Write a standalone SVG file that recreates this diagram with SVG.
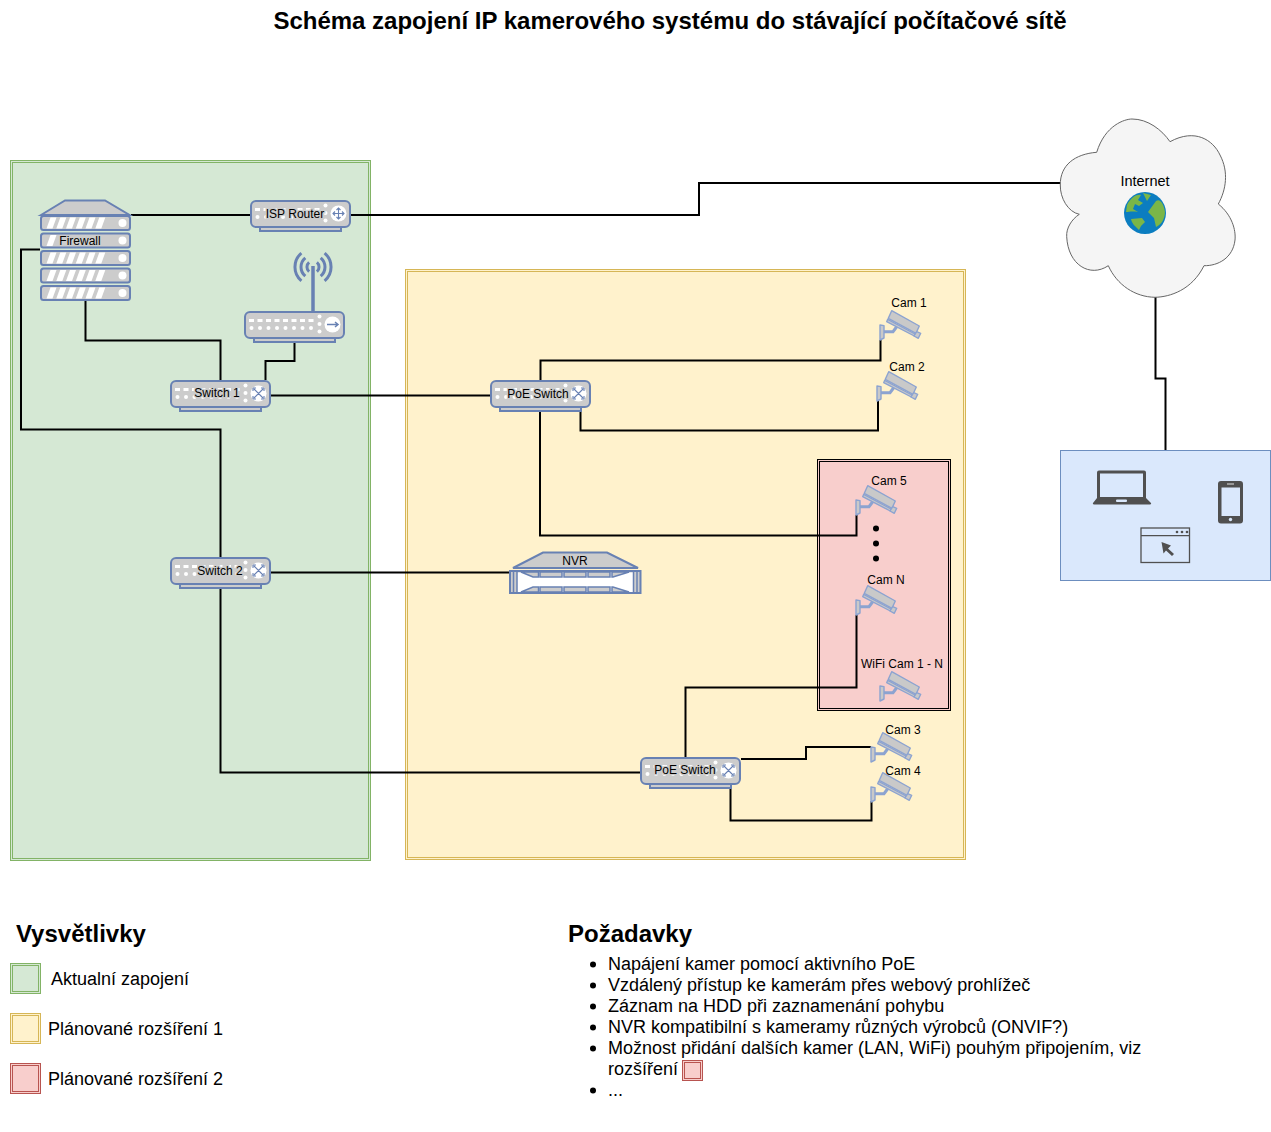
<svg xmlns="http://www.w3.org/2000/svg" xmlns:xlink="http://www.w3.org/1999/xlink" width="1271" height="1132" viewBox="0 0 1271 1132">
<style>
text{font-family:"Liberation Sans",Arial,sans-serif;fill:#000}
.l{font-size:12px;text-anchor:middle}
.lh{paint-order:stroke;stroke:#ccc;stroke-width:2.500}
.h{font-size:24px;font-weight:bold}
.t{font-size:18px}
.c{fill:none;stroke:#000;stroke-width:2}
.d{fill:#ccc;stroke:#6881b3;stroke-width:2}
.w{fill:#fff}
.i{fill:none;stroke:#6881b3;stroke-width:1.100}
.cam{fill:#c9c9c9;stroke:#8ca3d0;stroke-width:1.400;stroke-linejoin:round}
.gry{fill:#505050}
</style>
<defs>
<g id="dev">
<rect x="10" y="26" width="81" height="5" class="d"/>
<rect x="1" y="1" width="99" height="26" rx="5" class="d"/>
<g class="w">
<rect x="5" y="8" width="5" height="3"/><rect x="13.500" y="8" width="5" height="3"/><rect x="22" y="8" width="5" height="3"/><rect x="30.500" y="8" width="5" height="3"/><rect x="39" y="8" width="5" height="3"/><rect x="47.500" y="8" width="5" height="3"/><rect x="56" y="8" width="5" height="3"/><rect x="64.500" y="8" width="5" height="3"/>
<circle cx="7.500" cy="17" r="2"/><circle cx="16" cy="17" r="2"/><circle cx="24.500" cy="17" r="2"/><circle cx="33" cy="17" r="2"/><circle cx="41.500" cy="17" r="2"/><circle cx="50" cy="17" r="2"/><circle cx="58.500" cy="17" r="2"/><circle cx="67" cy="17" r="2"/>
<circle cx="75.500" cy="5.500" r="2"/><circle cx="75.500" cy="13" r="2"/><circle cx="75.500" cy="20.500" r="2"/>
<circle cx="88.500" cy="13.500" r="8"/>
</g>
</g>
<g id="sw">
<use xlink:href="#dev"/>
<path class="i" d="M84 9l9 9M93 9l-9 9M83 8v3M83 8h3M94 8v3M94 8h-3M83 19v-3M83 19h3M94 19v-3M94 19h-3"/>
</g>
<g id="cam">
<path class="cam" d="M0 15l4 .6V28l-4 2z"/>
<path d="M4 21.700H13L18 15" fill="none" stroke="#8ca3d0" stroke-width="3"/>
<path class="cam" d="M11.700 .7L39.300 16L36 23.300L8.300 8.300z"/>
<path class="cam" d="M7.700 9.300L35 24L34.300 26L6.700 11.700z"/>
<path class="cam" d="M36.700 21.700L40.700 23.300L38.300 28.300L34 26z"/>
</g>
<g id="unit">
<rect x="41" y="0" width="89" height="14" rx="2.500" class="d"/>
<circle cx="122.500" cy="7" r="4" class="w"/>
</g>
<g id="slash" class="w">
<path d="M46.500 12.500l4-11h6l-4 11zM56.300 12.500l4-11h6l-4 11zM66 12.500l4-11h6l-4 11zM75.800 12.500l4-11h6l-4 11zM85.500 12.500l4-11h6l-4 11zM95.300 12.500l4-11h6l-4 11z"/>
</g>
</defs>
<rect width="1271" height="1132" fill="#fff"/>
<text x="670" y="29" text-anchor="middle" font-size="24" font-weight="bold">Schéma zapojení IP kamerového systému do stávající počítačové sítě</text>

<g id="zone-green">
<rect x="10.500" y="160.500" width="360" height="700" fill="#d5e8d4" stroke="#82b366"/>
<rect x="12.500" y="162.500" width="356" height="696" fill="none" stroke="#82b366"/>
</g>
<g id="zone-yellow">
<rect x="405.500" y="269.500" width="560" height="590" fill="#fff2cc" stroke="#d6b656"/>
<rect x="407.500" y="271.500" width="556" height="586" fill="none" stroke="#d6b656"/>
</g>
<g id="zone-red">
<rect x="817.500" y="459.500" width="133" height="251" fill="#f8cecc" stroke="#000"/>
<rect x="819.500" y="461.500" width="129" height="247" fill="none" stroke="#000"/>
</g>
<g id="clients">
<rect x="1060.500" y="450.500" width="210" height="130" fill="#dae8fc" stroke="#6c8ebf"/>
<path class="gry" fill-rule="evenodd" d="M1099 470.500H1144a2 2 0 0 1 2 2V498L1151 503a1 1 0 0 1-1 1.500H1094a1 1 0 0 1-1-1.500L1097 498V472.500a2 2 0 0 1 2-2zM1100 473.500V497H1143V473.500z"/>
<rect x="1116" y="499.500" width="11" height="2.500" rx="1" fill="#dae8fc"/>
<path class="gry" fill-rule="evenodd" d="M1221 481H1240a3 3 0 0 1 3 3V520.500a3 3 0 0 1-3 3H1221a3 3 0 0 1-3-3V484a3 3 0 0 1 3-3zM1221.500 487.500V516H1240V487.500z"/>
<circle cx="1230.500" cy="519.500" r="1.700" fill="#dae8fc"/>
<rect x="1227" y="483" width="7" height="2" fill="#999"/>
<rect x="1141" y="528" width="48.500" height="34.500" fill="none" stroke="#505050" stroke-width="1.300"/>
<path d="M1141 535.700H1189.500" stroke="#505050" stroke-width="1.300"/>
<circle cx="1177" cy="532" r="1.300" class="gry"/><circle cx="1182" cy="532" r="1.300" class="gry"/><circle cx="1187" cy="532" r="1.300" class="gry"/>
<path class="gry" d="M1161.500 542L1171 545.500L1168 548.500L1174 554L1172 556L1166 550.500L1163.500 553.500z"/>
</g>

<g id="connectors">
<path class="c" d="M131 215H250"/>
<path class="c" d="M351 215H699V183H1060"/>
<path class="c" d="M85.500 300V340.500H220.500V380"/>
<path class="c" d="M294.500 341V361H265.500V380"/>
<path class="c" d="M40 249.500H21V429.500H220.500V557"/>
<path class="c" d="M271 395.500H490"/>
<path class="c" d="M540.500 380V360.500H880.500V340"/>
<path class="c" d="M580.500 411V430.500H878V400"/>
<path class="c" d="M540 411V535.500H856.500V515"/>
<path class="c" d="M271 572.500H510"/>
<path class="c" d="M220.500 588V772.500H640"/>
<path class="c" d="M685.500 757V687.500H856.500V615"/>
<path class="c" d="M741 759H806V747H871"/>
<path class="c" d="M730.500 788V820.500H871.500V801"/>
<path class="c" d="M1155.500 297V378.500H1165.500V450"/>
</g>

<g id="firewall">
<path class="d" d="M41 215L65 200.500H105L129.500 215z"/>
<use xlink:href="#unit" y="216"/><use xlink:href="#slash" y="216"/>
<use xlink:href="#unit" y="233.500"/><path class="w" d="M46.500 246l4-11h6l-4 11z"/>
<use xlink:href="#unit" y="251"/><use xlink:href="#slash" y="251"/>
<use xlink:href="#unit" y="268.500"/><use xlink:href="#slash" y="268.500"/>
<use xlink:href="#unit" y="286"/><use xlink:href="#slash" y="286"/>
<text class="l" x="80" y="245">Firewall</text>
</g>
<g id="isp-router">
<use xlink:href="#dev" x="250" y="200"/>
<path class="i" d="M338.500 208V219M333 213.500H344M336.500 210l2-2 2 2M336.500 217l2 2 2-2M335 211.500l-2 2 2 2M342 211.500l2 2-2 2"/>
<text class="l lh" x="295" y="218">ISP Router</text>
</g>
<g id="wifi-router">
<use xlink:href="#dev" x="244" y="311"/>
<path d="M313 312V266" stroke="#6881b3" stroke-width="3.500" fill="none"/>
<path d="M309.100 262.400A6 6 0 0 0 309.100 271.600M305.300 257.800A12 12 0 0 0 305.300 276.200M301.400 253.200A18 18 0 0 0 301.400 280.800M316.900 262.400A6 6 0 0 1 316.900 271.600M320.700 257.800A12 12 0 0 1 320.700 276.200M324.600 253.200A18 18 0 0 1 324.600 280.800" fill="none" stroke="#6881b3" stroke-width="3"/>
<path d="M327 324.500H338M335 322l3 2.500-3 2.500" fill="none" stroke="#6881b3" stroke-width="1.500"/>
</g>
<g id="switch-1">
<use xlink:href="#sw" x="170" y="380"/>
<text class="l lh" x="217" y="397">Switch 1</text>
</g>
<g id="switch-2">
<use xlink:href="#sw" x="170" y="557"/>
<text class="l lh" x="220" y="575">Switch 2</text>
</g>
<g id="poe-switch-1">
<use xlink:href="#sw" x="490" y="380"/>
<text class="l lh" x="538" y="398">PoE Switch</text>
</g>
<g id="poe-switch-2">
<use xlink:href="#sw" x="640" y="757"/>
<text class="l lh" x="685" y="774">PoE Switch</text>
</g>
<g id="nvr">
<path class="d" d="M513 568L543 552.500H607L638 568z"/>
<rect x="510" y="571" width="130.500" height="22" class="d"/>
<path class="w" d="M517 572.500H633V592H517z"/>
<path d="M513.500 571V593M517 571V593M633.500 571V593M637 571V593" stroke="#6881b3" stroke-width="1.500"/>
<g fill="#ccc" stroke="#6881b3" stroke-width="1.500">
<path d="M521 572H538.500V577L533 577z"/><rect x="540" y="572" width="22" height="5"/><rect x="564" y="572" width="22" height="5"/><rect x="588" y="572" width="22" height="5"/><path d="M612 572H629L613 577H612z"/>
<path d="M521 592H538.500V587L533 587z"/><rect x="540" y="587" width="22" height="5"/><rect x="564" y="587" width="22" height="5"/><rect x="588" y="587" width="22" height="5"/><path d="M612 592H629L613 587H612z"/>
</g>
<text class="l" x="575" y="565">NVR</text>
</g>
<g id="cam-1"><use xlink:href="#cam" x="880" y="310"/><text class="l" x="909" y="307">Cam 1</text></g>
<g id="cam-2"><use xlink:href="#cam" x="877" y="371"/><text class="l" x="907" y="371">Cam 2</text></g>
<g id="cam-5"><use xlink:href="#cam" x="856" y="485"/><text class="l" x="889" y="485">Cam 5</text></g>
<g id="cam-n"><use xlink:href="#cam" x="856" y="585"/><text class="l" x="886" y="584">Cam N</text></g>
<g id="cam-wifi"><use xlink:href="#cam" x="880" y="671"/><text class="l" x="902" y="668">WiFi Cam 1 - N</text></g>
<g id="cam-3"><use xlink:href="#cam" x="871" y="732"/><text class="l" x="903" y="734">Cam 3</text></g>
<g id="cam-4"><use xlink:href="#cam" x="871" y="772"/><text class="l" x="903" y="775">Cam 4</text></g>
<g id="more-dots"><circle cx="876" cy="528.500" r="3"/><circle cx="876" cy="543.500" r="3"/><circle cx="876" cy="558.500" r="3"/></g>
<g id="internet">
<path fill="#f5f5f5" stroke="#666" d="M1096.700 152.300C1105 125 1125 119 1132 119C1148 119 1162 130 1170 141.700C1195 128 1213 140 1220 155C1229 172 1226 190 1218.300 204C1232 215 1236 230 1235 240C1233 258 1218 266 1204 265.700C1192 290 1170 297 1155 297.300C1135 297 1117 285 1108.300 265.700C1090 278 1068 265 1066.700 236.700C1066 228 1072 219 1079.300 214.300C1068 212 1060 198 1060.300 185C1060 165 1075 154 1096.700 152.300z"/>
<text x="1145" y="186" font-size="14.500" text-anchor="middle">Internet</text>
<circle cx="1145" cy="213" r="21" fill="#0b7dc0"/>
<path fill="#7ab648" d="M1127 205C1131 197 1137 194 1141 195L1138 200L1143 203L1139 206L1135 204L1133 209L1138 212C1132 211 1129 212 1126 212zM1143 193L1151 195L1147 201zM1156 201C1160 198 1164 204 1165 212C1165 219 1161 225 1156 227L1154 218L1148 212zM1131 219L1142 218L1145 222L1141 226L1139 230C1135 226 1132 224 1131 219z"/>
</g>

<g id="legend">
<text class="h" x="16" y="942">Vysvětlivky</text>
<rect x="10.500" y="963.500" width="30" height="30" fill="#d5e8d4" stroke="#82b366"/><rect x="12.500" y="965.500" width="26" height="26" fill="none" stroke="#82b366"/>
<text class="t" x="51" y="985">Aktualní zapojení</text>
<rect x="10.500" y="1013.500" width="30" height="30" fill="#fff2cc" stroke="#d6b656"/><rect x="12.500" y="1015.500" width="26" height="26" fill="none" stroke="#d6b656"/>
<text class="t" x="48" y="1035">Plánované rozšíření 1</text>
<rect x="10.500" y="1063.500" width="30" height="30" fill="#f8cecc" stroke="#b85450"/><rect x="12.500" y="1065.500" width="26" height="26" fill="none" stroke="#b85450"/>
<text class="t" x="48" y="1085">Plánované rozšíření 2</text>
</g>
<g id="requirements">
<text class="h" x="568" y="942">Požadavky</text>
<g><circle cx="593" cy="964.500" r="3"/><circle cx="593" cy="985.500" r="3"/><circle cx="593" cy="1006.500" r="3"/><circle cx="593" cy="1027.500" r="3"/><circle cx="593" cy="1048.500" r="3"/><circle cx="593" cy="1090.500" r="3"/></g>
<text class="t" x="608" y="970">Napájení kamer pomocí aktivního PoE</text>
<text class="t" x="608" y="991">Vzdálený přístup ke kamerám přes webový prohlížeč</text>
<text class="t" x="608" y="1012">Záznam na HDD při zaznamenání pohybu</text>
<text class="t" x="608" y="1033">NVR kompatibilní s kameramy různých výrobců (ONVIF?)</text>
<text class="t" x="608" y="1054">Možnost přidání dalších kamer (LAN, WiFi) pouhým připojením, viz</text>
<text class="t" x="608" y="1075">rozšíření</text>
<rect x="682.500" y="1060.500" width="20" height="20" fill="#f8cecc" stroke="#b85450"/><rect x="684.500" y="1062.500" width="16" height="16" fill="none" stroke="#b85450"/>
<text class="t" x="608" y="1096">...</text>
</g>
</svg>
